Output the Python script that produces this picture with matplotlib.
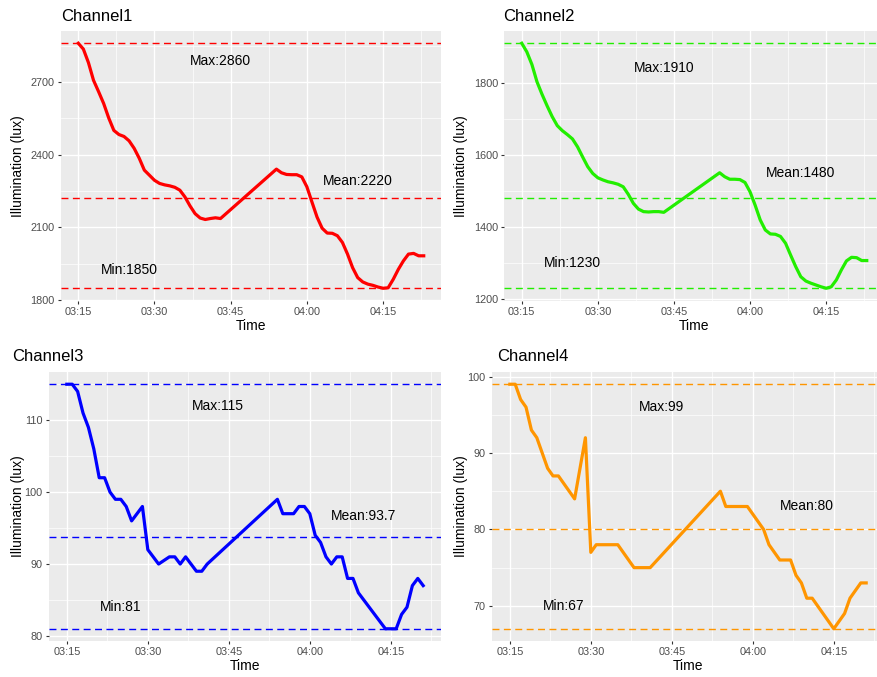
import matplotlib.pyplot as plt
import matplotlib.transforms as mtransforms
from matplotlib.ticker import FixedLocator, FuncFormatter

plt.rcParams['font.family'] = ['Liberation Sans', 'DejaVu Sans']

# readings are taken once a minute, counted from 03:15
START_HOUR, START_MIN = 3, 15
minutes_a = list(range(0, 29)) + list(range(39, 69))   # channel 1 and 2
minutes_b = list(range(0, 27)) + list(range(39, 67))   # channel 3 and 4

channel1 = [2860, 2836, 2780, 2707, 2660, 2611, 2551, 2500, 2483, 2475,
            2457, 2426, 2385, 2336, 2315, 2294, 2281, 2275, 2271, 2265,
            2253, 2225, 2188, 2156, 2138, 2132, 2136, 2139, 2136,
            2340, 2325, 2318, 2317, 2317, 2308, 2267, 2204, 2142, 2096,
            2076, 2075, 2065, 2037, 1989, 1933, 1892, 1874, 1865, 1860,
            1853, 1848, 1850, 1885, 1926, 1961, 1989, 1992, 1982, 1982]
channel2 = [1910, 1886, 1851, 1803, 1768, 1736, 1706, 1681, 1667, 1656,
            1644, 1622, 1594, 1567, 1548, 1536, 1530, 1525, 1522, 1518,
            1511, 1490, 1465, 1449, 1442, 1441, 1442, 1442, 1440,
            1550, 1539, 1532, 1532, 1531, 1523, 1497, 1460, 1419, 1391,
            1380, 1379, 1373, 1354, 1321, 1289, 1261, 1249, 1243, 1238,
            1233, 1229, 1233, 1252, 1280, 1305, 1315, 1314, 1306, 1306]
channel3 = [115, 115, 114, 111, 109, 106, 102, 102, 100, 99,
            99, 98, 96, 97, 98, 92, 91, 90, 90.5, 91,
            91, 90, 91, 90, 89, 89, 90,
            99, 97, 97, 97, 98, 98, 97, 94, 93, 91,
            90, 91, 91, 88, 88, 86, 85, 84, 83, 82,
            81, 81, 81, 83, 84, 87, 88, 87]
channel4 = [99, 99, 97, 96, 93, 92, 90, 88, 87, 87,
            86, 85, 84, 88, 92, 77, 78, 78, 78, 78,
            78, 77, 76, 75, 75, 75, 75,
            85, 83, 83, 83, 83, 83, 82, 81, 80, 78,
            77, 76, 76, 76, 74, 73, 71, 71, 70, 69,
            68, 67, 68, 69, 71, 72, 73, 73]

titles = ['Channel1', 'Channel2', 'Channel3', 'Channel4']
colors = ['#FF0000', '#22EE00', '#0000FF', '#FF9500']
max_vals = [2860, 1910, 115, 99]
mean_vals = [2220, 1480, 93.7, 80]
min_vals = [1850, 1230, 81, 67]
yticks = [[1800, 2100, 2400, 2700], [1200, 1400, 1600, 1800],
          [80, 90, 100, 110], [70, 80, 90, 100]]
xticks = [0, 15, 30, 45, 60]

W, H = 878, 677


def px_rect(left, top, right, bottom):
    return [left / W, 1 - bottom / H, (right - left) / W, (bottom - top) / H]


def clock(m, pos=None):
    total = START_HOUR * 60 + START_MIN + int(round(m))
    return '%02d:%02d' % (total // 60, total % 60)


fig = plt.figure(figsize=(W / 100, H / 100), dpi=100)

rects = [px_rect(61, 31, 441, 300.5), px_rect(504.5, 31, 884, 300.5),
         px_rect(49, 372, 441, 641), px_rect(492, 372, 884, 641)]
title_pos = [(61, 21), (503, 21), (12, 361), (497, 361)]
ylabel_x = [25, 468, 25, 468]
series = [(minutes_a, channel1), (minutes_a, channel2),
          (minutes_b, channel3), (minutes_b, channel4)]
offsets = [72, 70, 3, 3]

for i in range(4):
    ax = fig.add_axes(rects[i])
    t, y = series[i]
    ax.set_facecolor('#EBEBEB')
    for s in ax.spines.values():
        s.set_visible(False)

    ax.plot(t, y, color=colors[i], lw=2.3, solid_joinstyle='round', zorder=4)
    for v in (max_vals[i], mean_vals[i], min_vals[i]):
        ax.axhline(v, color=colors[i], lw=1.0, dashes=(5, 3.2), zorder=3)

    off = offsets[i]
    ax.text(28, max_vals[i] - off, 'Max:%g' % max_vals[i], ha='center', va='center', fontsize=10)
    ax.text(55, mean_vals[i] + off, 'Mean:%g' % mean_vals[i], ha='center', va='center', fontsize=10)
    ax.text(10, min_vals[i] + off, 'Min:%g' % min_vals[i], ha='center', va='center', fontsize=10)

    ax.margins(x=0.05, y=0.05)
    ax.xaxis.set_major_locator(FixedLocator(xticks))
    ax.xaxis.set_minor_locator(FixedLocator([7.5, 22.5, 37.5, 52.5, 67.5]))
    ax.xaxis.set_major_formatter(FuncFormatter(clock))
    yt = yticks[i]
    step = yt[1] - yt[0]
    ax.yaxis.set_major_locator(FixedLocator(yt))
    ax.yaxis.set_minor_locator(FixedLocator([yt[0] - step / 2] + [v + step / 2 for v in yt]))
    ax.grid(which='major', color='white', lw=1.0)
    ax.grid(which='minor', color='white', lw=0.5)
    ax.set_axisbelow(True)
    ax.tick_params(which='major', length=2.5, width=0.8, color='#333333',
                   labelsize=7.8, labelcolor='#4D4D4D', pad=2)
    ax.tick_params(which='minor', length=0)

    ax.set_xlabel('Time', fontsize=10, labelpad=1.5)
    ax.set_ylabel('Illumination (lux)', fontsize=10)
    ax.yaxis.set_label_coords(ylabel_x[i] / W, 0.5,
                              transform=mtransforms.blended_transform_factory(fig.transFigure, ax.transAxes))
    fig.text(title_pos[i][0] / W, 1 - title_pos[i][1] / H, titles[i],
             fontsize=12, ha='left', va='baseline')

fig.savefig('out.png', dpi=100)
